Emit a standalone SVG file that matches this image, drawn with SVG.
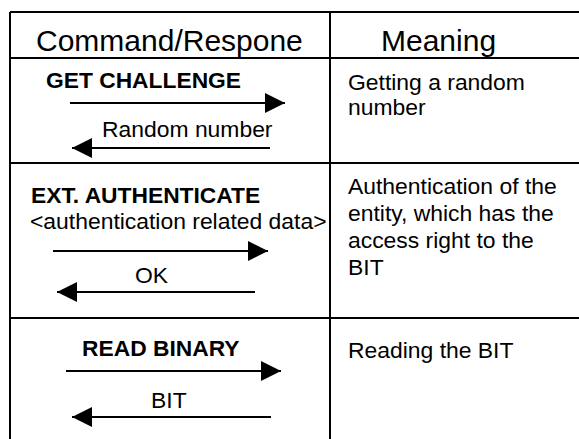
<svg xmlns="http://www.w3.org/2000/svg" width="579" height="439" viewBox="0 0 579 439">
  <style>
    .grid { stroke: #000; stroke-width: 2; fill: none; }
    .head { font-family: "Liberation Sans", Arial, sans-serif; font-size: 30px; fill: #000; }
    .cmd { font-family: "Liberation Sans", Arial, sans-serif; font-size: 22.8px; font-weight: bold; fill: #000; }
    .txt { font-family: "Liberation Sans", Arial, sans-serif; font-size: 22.9px; fill: #000; }
    .flow { stroke: #000; stroke-width: 2; fill: none; }
  </style>
  <defs>
    <marker id="head" viewBox="0 0 20 20" refX="20" refY="10" markerWidth="20" markerHeight="20" markerUnits="userSpaceOnUse" orient="auto">
      <path d="M0,0 L20,10 L0,20 Z" fill="#000"/>
    </marker>
  </defs>
  <rect width="579" height="439" fill="#fff"/>

  <!-- table rules -->
  <g id="table">
    <path class="grid" d="M10,12 H590 M10,58 H590 M10,163 H590 M10,318 H590 M10,12 V450 M330,12 V450"/>
  </g>

  <!-- column titles -->
  <g id="header">
    <text class="head" x="36" y="51">Command/Respone</text>
    <text class="head" x="381" y="51">Meaning</text>
  </g>

  <g id="get-challenge">
    <text class="cmd" x="46" y="88">GET CHALLENGE</text>
    <text class="txt" x="102" y="137">Random number</text>
    <text class="txt" x="348" y="90">Getting a random</text>
    <text class="txt" x="348" y="115">number</text>
  </g>

  <g id="ext-authenticate">
    <text class="cmd" x="31" y="203">EXT. AUTHENTICATE</text>
    <text class="txt" x="30" y="229">&lt;authentication related data&gt;</text>
    <text class="txt" x="135" y="283">OK</text>
    <text class="txt" x="348" y="194">Authentication of the</text>
    <text class="txt" x="348" y="221">entity, which has the</text>
    <text class="txt" x="348" y="248">access right to the</text>
    <text class="txt" x="348" y="275">BIT</text>
  </g>

  <g id="read-binary">
    <text class="cmd" x="82" y="356">READ BINARY</text>
    <text class="txt" x="151" y="408">BIT</text>
    <text class="txt" x="348" y="358">Reading the BIT</text>
  </g>

  <!-- command and response arrows -->
  <g id="connectors">
    <line class="flow" x1="70" y1="103" x2="285" y2="103" marker-end="url(#head)"/>
    <line class="flow" x1="270" y1="148" x2="72" y2="148" marker-end="url(#head)"/>
    <line class="flow" x1="53" y1="251" x2="268" y2="251" marker-end="url(#head)"/>
    <line class="flow" x1="255" y1="292" x2="57" y2="292" marker-end="url(#head)"/>
    <line class="flow" x1="66" y1="371" x2="281" y2="371" marker-end="url(#head)"/>
    <line class="flow" x1="271" y1="417" x2="72" y2="417" marker-end="url(#head)"/>
  </g>
</svg>
